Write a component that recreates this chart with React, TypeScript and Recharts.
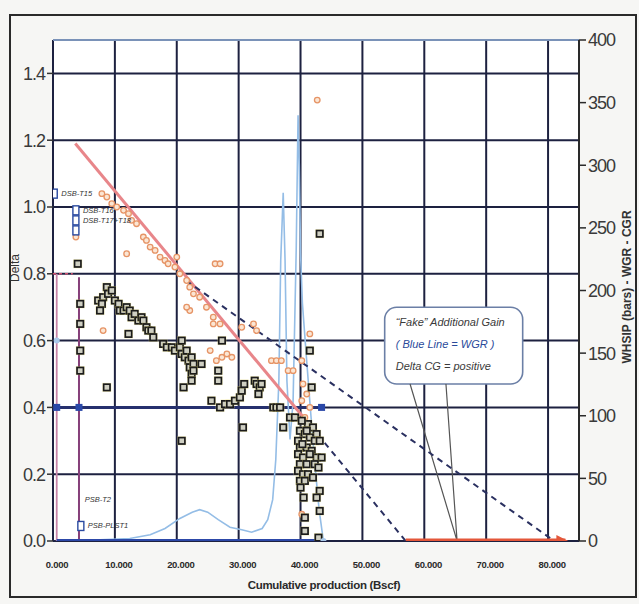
import {
  CartesianGrid,
  ComposedChart,
  Line,
  ReferenceArea,
  ReferenceLine,
  Scatter,
  XAxis,
  YAxis,
} from "recharts";

const X_TICKS = [0, 10, 20, 30, 40, 50, 60, 70, 80];
const LEFT_TICKS = [0, 0.2, 0.4, 0.6, 0.8, 1.0, 1.2, 1.4];
const RIGHT_TICKS = [0, 50, 100, 150, 200, 250, 300, 350, 400];

// Delta values (black squares)
const deltaSquares = [
  { x: 4.0, y: 0.83 }, { x: 4.4, y: 0.71 }, { x: 4.4, y: 0.65 }, { x: 4.4, y: 0.57 }, { x: 4.4, y: 0.51 },
  { x: 7.3, y: 0.72 }, { x: 8.1, y: 0.73 }, { x: 8.7, y: 0.76 }, { x: 8.9, y: 0.74 }, { x: 9.5, y: 0.75 },
  { x: 7.9, y: 0.71 }, { x: 7.6, y: 0.69 }, { x: 10.0, y: 0.72 }, { x: 10.6, y: 0.71 }, { x: 10.8, y: 0.69 },
  { x: 11.4, y: 0.69 }, { x: 11.9, y: 0.7 }, { x: 12.4, y: 0.69 }, { x: 12.7, y: 0.67 }, { x: 13.2, y: 0.68 },
  { x: 13.8, y: 0.66 }, { x: 14.3, y: 0.67 }, { x: 14.6, y: 0.66 }, { x: 15.1, y: 0.64 }, { x: 15.4, y: 0.63 },
  { x: 15.9, y: 0.63 }, { x: 16.2, y: 0.61 }, { x: 12.2, y: 0.62 }, { x: 8.7, y: 0.46 },
  { x: 17.8, y: 0.59 }, { x: 18.4, y: 0.58 }, { x: 19.2, y: 0.58 }, { x: 19.7, y: 0.57 }, { x: 20.5, y: 0.58 },
  { x: 20.8, y: 0.6 }, { x: 20.8, y: 0.56 }, { x: 21.3, y: 0.55 }, { x: 21.6, y: 0.57 }, { x: 21.9, y: 0.54 },
  { x: 22.1, y: 0.52 }, { x: 22.4, y: 0.55 }, { x: 22.4, y: 0.5 }, { x: 22.7, y: 0.53 }, { x: 22.7, y: 0.51 },
  { x: 22.4, y: 0.48 }, { x: 24.0, y: 0.53 }, { x: 21.1, y: 0.46 }, { x: 20.8, y: 0.3 },
  { x: 25.6, y: 0.42 }, { x: 26.7, y: 0.51 }, { x: 26.7, y: 0.48 }, { x: 27.3, y: 0.6 }, { x: 27.0, y: 0.4 },
  { x: 27.8, y: 0.41 }, { x: 28.6, y: 0.41 }, { x: 29.4, y: 0.42 }, { x: 30.2, y: 0.43 }, { x: 30.5, y: 0.45 },
  { x: 30.9, y: 0.47 }, { x: 32.6, y: 0.48 }, { x: 32.9, y: 0.47 }, { x: 33.4, y: 0.46 }, { x: 33.7, y: 0.47 },
  { x: 33.2, y: 0.44 }, { x: 30.7, y: 0.34 },
  { x: 35.6, y: 0.4 }, { x: 36.1, y: 0.4 }, { x: 36.7, y: 0.4 }, { x: 37.2, y: 0.34 }, { x: 38.3, y: 0.37 },
  { x: 39.1, y: 0.37 }, { x: 41.5, y: 0.57 }, { x: 41.8, y: 0.46 }, { x: 43.1, y: 0.92 },
  { x: 41.2, y: 0.35 }, { x: 42.0, y: 0.34 }, { x: 39.9, y: 0.33 }, { x: 40.7, y: 0.32 }, { x: 42.6, y: 0.32 },
  { x: 41.5, y: 0.31 }, { x: 39.6, y: 0.3 }, { x: 42.3, y: 0.3 }, { x: 43.1, y: 0.3 }, { x: 39.9, y: 0.28 },
  { x: 41.0, y: 0.28 }, { x: 41.8, y: 0.27 }, { x: 39.6, y: 0.26 }, { x: 40.4, y: 0.25 }, { x: 42.6, y: 0.25 },
  { x: 43.4, y: 0.25 }, { x: 39.9, y: 0.23 }, { x: 41.0, y: 0.23 }, { x: 42.3, y: 0.23 }, { x: 42.9, y: 0.22 },
  { x: 39.6, y: 0.21 }, { x: 40.4, y: 0.2 }, { x: 41.2, y: 0.2 }, { x: 39.9, y: 0.18 }, { x: 40.7, y: 0.18 },
  { x: 43.1, y: 0.15 }, { x: 42.6, y: 0.13 }, { x: 43.1, y: 0.09 }, { x: 40.7, y: 0.07 }, { x: 40.7, y: 0.03 },
  { x: 42.9, y: 0.01 }, { x: 40.2, y: 0.36 }, { x: 41.0, y: 0.33 }, { x: 40.0, y: 0.16 }, { x: 40.5, y: 0.13 },
  { x: 42.0, y: 0.19 }, { x: 41.5, y: 0.26 }, { x: 40.3, y: 0.29 },
];

// CGR-type points (orange circles)
const orangeCircles = [
  { x: 3.7, y: 0.91 }, { x: 7.9, y: 1.04 }, { x: 8.7, y: 1.03 }, { x: 9.5, y: 1.01 }, { x: 10.3, y: 1.0 },
  { x: 11.4, y: 0.99 }, { x: 12.2, y: 0.98 }, { x: 12.7, y: 0.96 }, { x: 13.5, y: 0.95 }, { x: 14.6, y: 0.91 },
  { x: 15.1, y: 0.9 }, { x: 15.7, y: 0.88 }, { x: 16.5, y: 0.87 }, { x: 17.3, y: 0.85 }, { x: 18.1, y: 0.84 },
  { x: 18.6, y: 0.83 }, { x: 19.7, y: 0.82 }, { x: 20.0, y: 0.85 }, { x: 20.5, y: 0.8 }, { x: 21.6, y: 0.78 },
  { x: 22.1, y: 0.76 }, { x: 22.7, y: 0.74 }, { x: 23.7, y: 0.73 }, { x: 24.8, y: 0.7 }, { x: 25.9, y: 0.67 },
  { x: 27.0, y: 0.65 }, { x: 26.2, y: 0.83 }, { x: 27.0, y: 0.83 }, { x: 11.9, y: 0.86 }, { x: 8.1, y: 0.63 },
  { x: 22.1, y: 0.69 }, { x: 21.6, y: 0.7 }, { x: 25.9, y: 0.65 }, { x: 30.5, y: 0.64 }, { x: 32.9, y: 0.63 },
  { x: 32.4, y: 0.65 }, { x: 25.4, y: 0.57 }, { x: 26.4, y: 0.54 }, { x: 27.3, y: 0.55 }, { x: 28.1, y: 0.56 },
  { x: 28.9, y: 0.55 }, { x: 35.3, y: 0.54 }, { x: 36.1, y: 0.54 }, { x: 36.9, y: 0.54 }, { x: 38.0, y: 0.51 },
  { x: 38.8, y: 0.51 }, { x: 40.2, y: 0.42 }, { x: 41.0, y: 0.44 }, { x: 40.7, y: 0.37 }, { x: 41.5, y: 0.4 },
  { x: 41.5, y: 0.62 }, { x: 40.2, y: 0.54 }, { x: 40.4, y: 0.47 }, { x: 40.2, y: 0.08 }, { x: 42.7, y: 1.32 },
];

// WGR (right axis)
const wgrLine = [
  { x: 0.6, y: 0 }, { x: 7.6, y: 1 }, { x: 12.4, y: 2 }, { x: 15.7, y: 5 }, { x: 18.1, y: 10 },
  { x: 20.5, y: 18 }, { x: 22.5, y: 23 }, { x: 23.7, y: 25 }, { x: 25.0, y: 23 }, { x: 26.7, y: 17 },
  { x: 28.6, y: 11 }, { x: 30.5, y: 9 }, { x: 32.1, y: 7 }, { x: 33.8, y: 10 }, { x: 34.7, y: 17 },
  { x: 35.5, y: 33 }, { x: 36.0, y: 65 }, { x: 36.5, y: 128 }, { x: 36.8, y: 224 }, { x: 37.2, y: 278 },
  { x: 37.5, y: 224 }, { x: 37.8, y: 128 }, { x: 38.3, y: 81 }, { x: 38.8, y: 112 }, { x: 39.3, y: 232 },
  { x: 39.6, y: 340 }, { x: 39.8, y: 300 }, { x: 40.0, y: 230 }, { x: 40.3, y: 190 }, { x: 40.9, y: 150 },
  { x: 41.6, y: 105 }, { x: 42.3, y: 62 }, { x: 43.0, y: 25 }, { x: 43.7, y: 0 },
];

const trendLine = [{ x: 3.6, y: 1.19 }, { x: 40.5, y: 0.37 }];
const extrapUpper = [{ x: 21.5, y: 0.78 }, { x: 81, y: 0 }];
const extrapLower = [{ x: 40.5, y: 0.37 }, { x: 57, y: 0 }];
const gainArrow = [{ x: 57, y: 0 }, { x: 82.8, y: 0 }];
const calloutPointer = [{ x: 57.7, y: 0.47 }, { x: 65.3, y: 0 }, { x: 63.5, y: 0.47 }];
const baseZero = [{ x: 0.6, y: 0 }, { x: 43.7, y: 0 }];
const basePoint4 = [{ x: 0.6, y: 0.4 }, { x: 43.4, y: 0.4 }];
const testVertA = [{ x: 0.6, y: 0.8 }, { x: 0.6, y: 0 }];
const testVertB = [{ x: 4.2, y: 0.79 }, { x: 4.2, y: 0 }];
const testDash = [{ x: 0, y: 0.8 }, { x: 3.2, y: 0.8 }];
const blueMarks = [{ x: 0.6, y: 0.4 }, { x: 4.2, y: 0.4 }, { x: 43.4, y: 0.4 }];
const lightBlueMarks = [{ x: 0.6, y: 0.6 }, { x: 43.7, y: 0.0 }];

const wellTags = [
  { x: 0.2, y: 1.04, label: "DSB-T15", box: true },
  { x: 3.7, y: 0.99, label: "DSB-T16", box: true },
  { x: 3.7, y: 0.96, label: "DSB-T17+T18", box: true },
  { x: 3.7, y: 0.93, label: "", box: true },
  { x: 4.0, y: 0.125, label: "PSB-T2", box: false },
  { x: 4.5, y: 0.045, label: "PSB-PLST1", box: true },
];

const CALLOUT_LINES = ["\u201cFake\u201d Additional Gain", "( Blue Line = WGR )", "Delta CG = positive"];
const CALLOUT_BOX = { x1: 53.6, x2: 75.9, y1: 0.47, y2: 0.7 };

const NARROW = "'Liberation Sans Narrow', 'Liberation Sans', Arial, sans-serif";
const GRID = "#1d2140";

function OpenSquare(p: any) {
  return (
    <g>
      <rect x={p.cx - 4.5} y={p.cy - 4.5} width={9} height={9} fill="#f1e47a" opacity={0.45} />
      <rect x={p.cx - 3.2} y={p.cy - 3.2} width={6.4} height={6.4} fill="#cfcfc2" stroke="#1b1b1b" strokeWidth={1.7} />
    </g>
  );
}

function OrangeRing(p: any) {
  return <circle cx={p.cx} cy={p.cy} r={2.8} fill="#fbe6d4" stroke="#e69466" strokeWidth={1.3} />;
}

function BlueSquare(p: any) {
  return <rect x={p.cx - 3.5} y={p.cy - 3.5} width={7} height={7} fill="#2a48a8" />;
}

function LightDot(p: any) {
  return <circle cx={p.cx} cy={p.cy} r={3} fill="#a9c8ea" />;
}

function WellTag(p: any) {
  const d = p.payload ?? {};
  return (
    <g>
      {d.box && (
        <rect x={p.cx - 3} y={p.cy - 4.5} width={6} height={9} fill="#fff" stroke="#2a4aa0" strokeWidth={1.4} />
      )}
      {d.label && (
        <text
          x={p.cx + 7}
          y={p.cy + 2.5}
          fontSize={7.5}
          fontStyle="italic"
          fontFamily={NARROW}
          fill="#333"
        >
          {d.label}
        </text>
      )}
    </g>
  );
}

function ArrowHead(p: any) {
  if (p.index !== gainArrow.length - 1) return <g key={`ah-${p.index}`} />;
  return (
    <path
      key="ah-end"
      d={`M${p.cx - 9},${p.cy - 6} L${p.cx + 3},${p.cy} L${p.cx - 9},${p.cy + 6} Z`}
      fill="#e4573a"
    />
  );
}

function Callout(p: any) {
  const { x, y, width, height } = p;
  return (
    <g>
      <rect x={x} y={y} width={width} height={height} rx={12} fill="#fff" stroke="#6b7fa6" strokeWidth={1.6} />
      {CALLOUT_LINES.map((t, i) => (
        <text
          key={t}
          x={x + 11}
          y={y + 19 + i * 22}
          fontSize={11}
          fontStyle="italic"
          fontFamily={NARROW}
          fill={i === 1 ? "#2a4a9a" : "#3a3a3a"}
        >
          {t}
        </text>
      ))}
    </g>
  );
}

export default function App() {
  return (
    <div style={{ position: "relative", width: 639, height: 604, background: "#f6f6f4" }}>
      <style>{`body{margin:0;background:#f6f6f4}`}</style>
      <div
        style={{
          position: "absolute",
          left: 9,
          top: 14,
          width: 624,
          height: 580,
          border: "2px solid #2a2a2a",
        }}
      />
      <ComposedChart
        width={639}
        height={604}
        margin={{ top: 40, right: 0, bottom: 23, left: 0 }}
        style={{ position: "absolute", left: 0, top: 0 }}
      >
        <CartesianGrid
          yAxisId="left"
          stroke={GRID}
          strokeWidth={2}
          fill="#ffffff"
          fillOpacity={1}
        />
        <XAxis
          type="number"
          dataKey="x"
          domain={[0, 85]}
          ticks={X_TICKS}
          allowDataOverflow
          axisLine={false}
          tickLine={false}
          tickSize={18}
          height={40}
          tickFormatter={(v) => Number(v).toFixed(3)}
          tick={{ fontSize: 9.5, fontWeight: 700, fill: "#2a2a2a", fontFamily: NARROW, dx: 4, letterSpacing: -0.3 }}
          label={{
            content: () => (
              <text x={324} y={589} textAnchor="middle" fontSize={11.5} fontWeight={700} fontFamily={NARROW} fill="#2a2a2a" letterSpacing={-0.3}>
                Cumulative production (Bscf)
              </text>
            ),
          }}
        />
        <YAxis
          yAxisId="left"
          dataKey="y"
          type="number"
          domain={[0, 1.5]}
          ticks={LEFT_TICKS}
          allowDataOverflow
          width={53}
          axisLine={false}
          tickSize={6}
          tickLine={{ stroke: "#333", strokeWidth: 1.5 }}
          tickFormatter={(v) => Number(v).toFixed(1)}
          tick={{ fontSize: 18, fill: "#3a3a3a", fontFamily: NARROW, letterSpacing: -1 }}
          label={{
            content: () => (
              <text x={19} y={268} transform="rotate(-90 19 268)" textAnchor="middle" fontSize={12} fontFamily={NARROW} fill="#333">
                Delta
              </text>
            ),
          }}
        />
        <YAxis
          yAxisId="right"
          orientation="right"
          dataKey="y"
          type="number"
          domain={[0, 400]}
          ticks={RIGHT_TICKS}
          allowDataOverflow
          width={60}
          axisLine={{ stroke: "#2a2a2a", strokeWidth: 2 }}
          tickSize={7}
          tickLine={{ stroke: "#2a2a2a", strokeWidth: 1.5 }}
          tick={{ fontSize: 18, fill: "#3a3a3a", fontFamily: NARROW, letterSpacing: -1 }}
          label={{
            content: () => (
              <text x={628} y={287} transform="rotate(-90 628 287)" textAnchor="middle" dominantBaseline="middle" fontSize={12} fontWeight={700} fontFamily={NARROW} fill="#333">
                WHSIP (bars) - WGR - CGR
              </text>
            ),
          }}
        />

        <ReferenceLine yAxisId="left" y={1.5} stroke="#9ab8e0" strokeWidth={1.5} />

        <ReferenceArea
          yAxisId="left"
          x1={CALLOUT_BOX.x1}
          x2={CALLOUT_BOX.x2}
          y1={CALLOUT_BOX.y1}
          y2={CALLOUT_BOX.y2}
          shape={Callout}
        />

        <Line yAxisId="left" data={calloutPointer} dataKey="y" stroke="#555" strokeWidth={1.2} dot={false} isAnimationActive={false} />
        <Line yAxisId="left" data={testVertA} dataKey="y" stroke="#c884a8" strokeWidth={1.8} dot={false} isAnimationActive={false} />
        <Line yAxisId="left" data={testVertB} dataKey="y" stroke="#86407a" strokeWidth={2} dot={false} isAnimationActive={false} />
        <Line yAxisId="left" data={testDash} dataKey="y" stroke="#d05070" strokeWidth={1.5} strokeDasharray="3 3" dot={false} isAnimationActive={false} />
        <Line yAxisId="left" data={basePoint4} dataKey="y" stroke="#26306e" strokeWidth={3} dot={false} isAnimationActive={false} />

        <Scatter yAxisId="left" data={orangeCircles} shape={OrangeRing} isAnimationActive={false} />

        <Line yAxisId="right" data={wgrLine} dataKey="y" stroke="#94bde6" strokeWidth={1.6} dot={false} isAnimationActive={false} />
        <Line yAxisId="left" data={baseZero} dataKey="y" stroke="#2c48a8" strokeWidth={4} dot={false} isAnimationActive={false} />

        <Line yAxisId="left" data={trendLine} dataKey="y" stroke="#e8868a" strokeWidth={3} dot={false} isAnimationActive={false} />
        <Line yAxisId="left" data={extrapUpper} dataKey="y" stroke="#2a3060" strokeWidth={2} strokeDasharray="6 5" dot={false} isAnimationActive={false} />
        <Line yAxisId="left" data={extrapLower} dataKey="y" stroke="#2a3060" strokeWidth={2} strokeDasharray="6 5" dot={false} isAnimationActive={false} />
        <Line yAxisId="left" data={gainArrow} dataKey="y" stroke="#e4573a" strokeWidth={5} dot={ArrowHead} isAnimationActive={false} />

        <Scatter yAxisId="left" data={deltaSquares} shape={OpenSquare} isAnimationActive={false} />
        <Scatter yAxisId="left" data={blueMarks} shape={BlueSquare} isAnimationActive={false} />
        <Scatter yAxisId="left" data={lightBlueMarks} shape={LightDot} isAnimationActive={false} />
        <Scatter yAxisId="left" data={wellTags} shape={WellTag} isAnimationActive={false} />
      </ComposedChart>
    </div>
  );
}
